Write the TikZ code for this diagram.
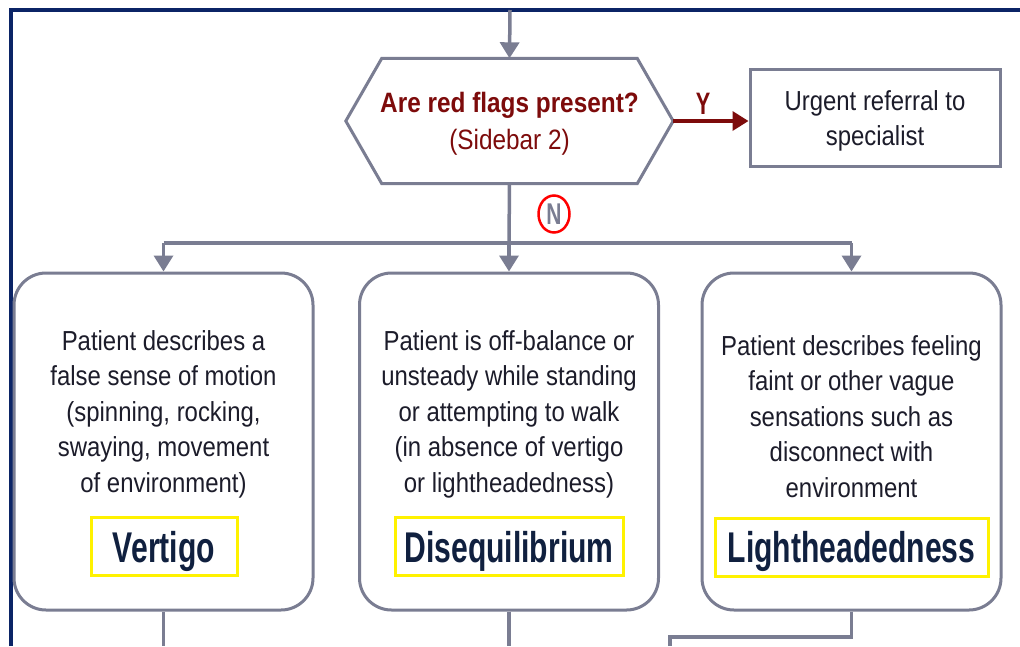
\documentclass[tikz,border=0pt]{standalone}
\usepackage{fontspec}
\setmainfont[FakeStretch=0.87]{Liberation Sans}
\newfontfamily\labfont[FakeStretch=0.7]{Liberation Sans}
\usetikzlibrary{arrows.meta,shapes.geometric}
\definecolor{navy}{HTML}{0B2466}
\definecolor{lgray}{HTML}{7A7D92}
\definecolor{dred}{HTML}{7D0B0B}
\definecolor{ink}{HTML}{1C1C2A}
\definecolor{lblink}{HTML}{10203F}
\definecolor{ylw}{HTML}{FFF200}
\begin{document}
\begin{tikzpicture}[x=1pt,y=-1pt,
  conn/.style={draw=lgray,line width=3.5pt},
  arr/.style={conn,-{Triangle[width=19pt,length=16pt]}},
  rbox/.style={draw=lgray,line width=3pt,rounded corners=32pt,minimum width=299pt,minimum height=337pt,inner sep=0pt},
  body/.style={font=\fontsize{27.5}{35.5}\selectfont,text=ink,align=center,inner sep=0pt},
  lbl/.style={draw=ylw,line width=3pt,font=\labfont\bfseries\fontsize{43}{46}\selectfont,text=lblink,
              minimum height=58pt,inner sep=0pt,text height=34pt,text depth=3pt},
]
\useasboundingbox (0,0) rectangle (1020,646);
\fill[white] (0,0) rectangle (1020,646);
\draw[navy,line width=4pt] (10.5,646) -- (10.5,10) -- (1020,10);

% decision hexagon
\node[minimum width=327pt,minimum height=125pt,inner sep=0pt,align=center,text=dred,
      font=\fontsize{28}{37}\selectfont] (hex) at (509.5,121) {};
\node[align=center,text=dred,font=\fontsize{28}{37}\selectfont,inner sep=0pt] (hextxt) at (509.5,124)
      {\textbf{Are red flags present?}\\(Sidebar 2)};
\draw[draw=lgray,line width=3pt] (hex.west) -- ([xshift=36pt]hex.north west) -- ([xshift=-36pt]hex.north east)
   -- (hex.east) -- ([xshift=-36pt]hex.south east) -- ([xshift=36pt]hex.south west) -- cycle;

\node[draw=lgray,line width=3pt,minimum width=250pt,minimum height=97pt] (ref) at (875,118) {};
\node[body] (reftxt) at (875,121) {Urgent referral to\\specialist};

\coordinate (top) at (510,10);
\draw[arr] (top) -- (hex.north);

\draw[draw=dred,line width=3.5pt,-{Triangle[width=19pt,length=16pt]}] (hex.east) -- (hex.east -| ref.west);
\node[text=dred,font=\labfont\bfseries\fontsize{31}{31}\selectfont,inner sep=0pt] (ylab) at (703,104) {Y};

% three category boxes
\node[rbox] (b1) at (163.5,441.5) {};
\node[rbox] (b2) at (509,441.5) {};
\node[rbox] (b3) at (851.5,441.5) {};

\node[body] (t1) at (163.5,414) {Patient describes a\\false sense of motion\\(spinning, rocking,\\swaying, movement\\of environment)};
\node[body] (t2) at (509,414) {Patient is off-balance or\\unsteady while standing\\or attempting to walk\\(in absence of vertigo\\or lightheadedness)};
\node[body] (t3) at (851.5,416.5) {Patient describes feeling\\faint or other vague\\sensations such as\\disconnect with\\environment};

\node[lbl,minimum width=146pt] (l1) at (164,546.5) {Vertigo};
\node[lbl,minimum width=228pt] (l2) at (509,546.5) {Disequilibrium};
\node[lbl,minimum width=273pt] (l3) at (851.5,547) {Lightheadedness};

% branching
\coordinate (bus) at (509,243);
\draw[conn] (hex.south) -- (bus);
\draw[conn] (b1.north |- bus) -- (b3.north |- bus);
\draw[arr] (b1.north |- bus) -- (b1.north);
\draw[arr] (b2.north |- bus) -- (b2.north);
\draw[arr] (b3.north |- bus) -- (b3.north);

\node[draw=red,line width=2.5pt,ellipse,minimum width=31pt,minimum height=37pt,inner sep=0pt,text=lgray,
      font=\labfont\bfseries\fontsize{30}{30}\selectfont] (nlab) at (554,214) {N};

% lines leaving the bottom
\coordinate (e1) at (163.5,646);
\coordinate (e2) at (509,646);
\coordinate (k1) at (851.5,637);
\coordinate (k2) at (670,637);
\coordinate (e3) at (670,646);
\draw[conn] (b1.south) -- (e1);
\draw[conn] (b2.south) -- (e2);
\draw[conn] (b3.south) -- (k1) -- (k2) -- (e3);
\end{tikzpicture}
\end{document}
